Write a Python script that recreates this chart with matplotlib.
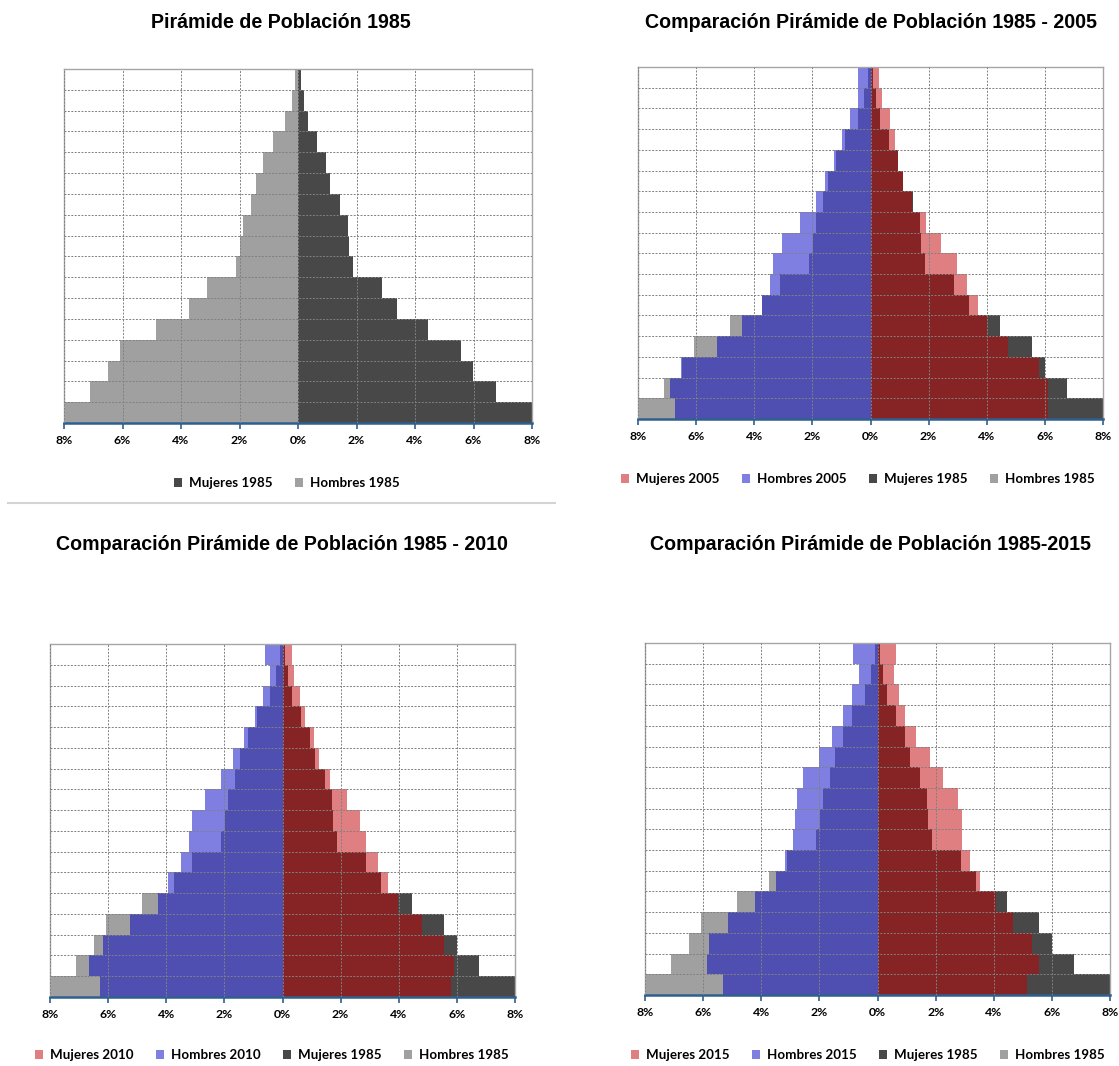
import matplotlib
matplotlib.use("Agg")
import matplotlib.pyplot as plt
from matplotlib.ticker import FuncFormatter
from matplotlib.lines import Line2D

# Age groups, youngest at the bottom of each pyramid
ages = ["0-4", "5-9", "10-14", "15-19", "20-24", "25-29", "30-34", "35-39",
        "40-44", "45-49", "50-54", "55-59", "60-64", "65-69", "70-74",
        "75-79", "80+"]

# Share of total population (%) by age group
hombres_1985 = [8.0, 7.11, 6.49, 6.07, 4.84, 3.72, 3.10, 2.11, 1.98, 1.89,
                1.62, 1.45, 1.20, 0.87, 0.44, 0.21, 0.10]
mujeres_1985 = [8.0, 6.77, 5.99, 5.57, 4.46, 3.40, 2.86, 1.87, 1.74, 1.71,
                1.45, 1.11, 0.95, 0.65, 0.33, 0.19, 0.10]

hombres_2005 = [6.73, 6.90, 6.51, 5.28, 4.42, 3.73, 3.46, 3.37, 3.04, 2.41,
                1.89, 1.56, 1.26, 0.97, 0.69, 0.44, 0.44]
mujeres_2005 = [6.11, 6.11, 5.81, 4.73, 4.01, 3.69, 3.33, 2.98, 2.44, 1.92,
                1.43, 1.13, 0.95, 0.84, 0.67, 0.38, 0.29]

hombres_2010 = [6.29, 6.65, 6.17, 5.25, 4.30, 3.93, 3.48, 3.22, 3.13, 2.67,
                2.10, 1.70, 1.33, 0.95, 0.67, 0.44, 0.61]
mujeres_2010 = [5.79, 5.91, 5.55, 4.81, 3.98, 3.64, 3.29, 2.86, 2.68, 2.21,
                1.65, 1.26, 1.08, 0.77, 0.61, 0.40, 0.32]

hombres_2015 = [5.33, 5.85, 5.79, 5.13, 4.22, 3.48, 3.17, 2.90, 2.84, 2.76,
                2.56, 2.02, 1.56, 1.18, 0.89, 0.64, 0.84]
mujeres_2015 = [5.16, 5.55, 5.33, 4.67, 4.09, 3.54, 3.18, 2.92, 2.92, 2.78,
                2.26, 1.80, 1.32, 0.94, 0.73, 0.56, 0.65]

x_ticks = [-8, -6, -4, -2, 0, 2, 4, 6, 8]

C_MUJ_85 = "#484848"
C_HOM_85 = "#A0A0A0"
C_MUJ_NEW = "#C20004"
C_HOM_NEW = "#0000C4"
NEW_ALPHA = 0.5

W, H = 1119, 1066
fig = plt.figure(figsize=(W / 100, H / 100), dpi=100)

TITLE_FONT = dict(family="Liberation Sans", weight="bold", size=14.1)
LABEL_FONT = "Lato"


def px_axes(left, top, right, bottom):
    return fig.add_axes([left / W, 1 - bottom / H, (right - left) / W, (bottom - top) / H])


def style_axes(ax):
    ax.set_xlim(-8, 8)
    ax.set_ylim(-0.5, len(ages) - 0.5)
    ax.set_xticks(x_ticks)
    ax.xaxis.set_major_formatter(FuncFormatter(lambda v, p: f"{abs(v):.0f}%"))
    ax.set_yticks([i + 0.5 for i in range(len(ages) - 1)])
    ax.tick_params(axis="y", length=0, labelleft=False)
    ax.tick_params(axis="x", direction="out", length=4, width=1.2,
                   color="#2F5F8F", pad=5)
    for lab in ax.get_xticklabels():
        lab.set_fontfamily(LABEL_FONT)
        lab.set_fontweight("bold")
        lab.set_fontsize(8.8)
    ax.set_axisbelow(False)
    ax.grid(True, linestyle=(0, (2, 1.5)), linewidth=0.7,
            color=(0.5, 0.5, 0.5, 0.22))
    for side in ("left", "right", "top"):
        ax.spines[side].set_color("#A6A6A6")
        ax.spines[side].set_linewidth(1.0)
    ax.spines["bottom"].set_color("#2F5F8F")
    ax.spines["bottom"].set_linewidth(1.8)


def add_legend(handles, labels, cx, cy):
    fig.legend(handles, labels, loc="center", bbox_to_anchor=(cx / W, 1 - cy / H),
               ncol=len(handles), frameon=False, handlelength=0.6,
               handleheight=0.6, handletextpad=0.5, columnspacing=1.7,
               prop=dict(family=LABEL_FONT, weight="bold", size=9.6))


y = list(range(len(ages)))
neg = lambda vals: [-v for v in vals]

# Single-year pyramid
ax1 = px_axes(64, 69, 532, 423)
b_m = ax1.barh(y, mujeres_1985, height=1.0, color=C_MUJ_85)
b_h = ax1.barh(y, neg(hombres_1985), height=1.0, color=C_HOM_85)
style_axes(ax1)
fig.text(281 / W, 1 - 22 / H, "Pirámide de Población 1985",
         ha="center", va="center", **TITLE_FONT)
add_legend([b_m, b_h], ["Mujeres 1985", "Hombres 1985"], 287, 483)

# Comparison pyramids: 1985 underneath, later year translucent on top
panels = [
    ((638, 67, 1103, 419), "Comparación Pirámide de Población 1985 - 2005",
     mujeres_2005, hombres_2005, "2005", (871, 22), (858, 479)),
    ((50, 644, 515, 997), "Comparación Pirámide de Población 1985 - 2010",
     mujeres_2010, hombres_2010, "2010", (282, 545), (272, 1055)),
    ((645, 643, 1110, 995), "Comparación Pirámide de Población 1985-2015",
     mujeres_2015, hombres_2015, "2015", (871, 545), (868, 1055)),
]

for box, title, muj, hom, year, tpos, lpos in panels:
    ax = px_axes(*box)
    g_m = ax.barh(y, mujeres_1985, height=1.0, color=C_MUJ_85)
    g_h = ax.barh(y, neg(hombres_1985), height=1.0, color=C_HOM_85)
    n_m = ax.barh(y, muj, height=1.0, color=C_MUJ_NEW, alpha=NEW_ALPHA, linewidth=0)
    n_h = ax.barh(y, neg(hom), height=1.0, color=C_HOM_NEW, alpha=NEW_ALPHA, linewidth=0)
    style_axes(ax)
    fig.text(tpos[0] / W, 1 - tpos[1] / H, title, ha="center", va="center", **TITLE_FONT)
    add_legend([n_m, n_h, g_m, g_h],
               [f"Mujeres {year}", f"Hombres {year}", "Mujeres 1985", "Hombres 1985"],
               *lpos)

# Thin divider under the first chart
fig.add_artist(Line2D([8 / W, 555 / W], [1 - 503 / H] * 2, color="#D4D4D4", linewidth=1.5))

fig.savefig("out.png", dpi=100, facecolor="white")
